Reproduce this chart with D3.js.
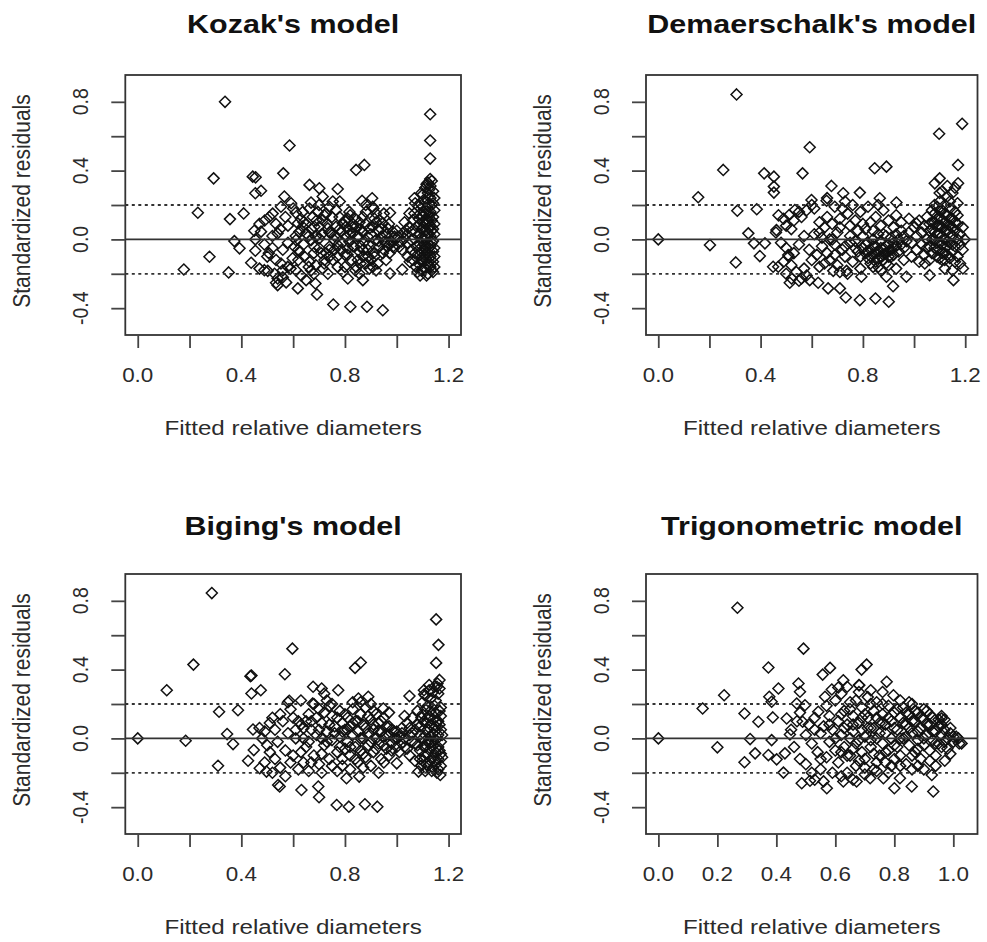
<!DOCTYPE html>
<html>
<head>
<meta charset="utf-8">
<script src="https://cdn.jsdelivr.net/npm/d3@7"></script>
<style>body{margin:0;background:#fff}</style>
</head>
<body>
<svg id="chart" width="987" height="942"></svg>
<script>
// panel titles and axis text
const titles = ["Kozak's model", "Demaerschalk's model", "Biging's model", "Trigonometric model"];
const xTitle = "Fitted relative diameters";
const yTitle = "Standardized residuals";

// tick values / labels (R drops labels that would overlap)
const xTicksWide = [0, 0.2, 0.4, 0.6, 0.8, 1.0, 1.2];
const xLabelsWide = ["0.0", "", "0.4", "", "0.8", "", "1.2"];
const xTicksTrig = [0, 0.2, 0.4, 0.6, 0.8, 1.0];
const xLabelsTrig = ["0.0", "0.2", "0.4", "0.6", "0.8", "1.0"];
const yTicks = [-0.4, -0.2, 0, 0.2, 0.4, 0.6, 0.8];
const yLabels = ["-0.4", "", "0.0", "", "0.4", "", "0.8"];
const refLines = [-0.2, 0, 0.2];

// [fitted, standardized residual]
const kozakPts = [
  [0.178,-0.175],[0.232,0.155],[0.277,-0.101],[0.293,0.355],[0.337,0.80],[0.351,-0.192],[0.356,0.118],[0.373,-0.01],
  [0.393,-0.052],[0.409,0.151],[0.438,-0.136],[0.444,0.365],[0.455,0.361],[0.454,0.268],[0.476,0.283],[0.454,-0.066],
  [0.489,-0.179],[0.502,-0.183],[0.534,-0.252],[0.540,-0.266],[0.562,0.384],[0.586,0.546],[0.566,0.249],[0.618,-0.285],
  [0.663,0.317],[0.669,0.214],[0.686,-0.256],[0.692,-0.320],[0.701,0.297],[0.714,0.249],[0.755,-0.379],[0.772,0.293],
  [0.811,-0.227],[0.821,-0.392],[0.843,0.404],[0.866,0.225],[0.869,-0.237],[0.875,0.433],[0.885,-0.392],[0.905,0.239],
  [0.946,-0.412],[0.974,0.155],[0.974,-0.198],[1.021,-0.175],[1.049,0.151],[1.068,0.239],[1.129,0.728],[1.129,0.575],
  [1.129,0.47],[1.129,0.351],
  [0.45,0.05],[0.476,0.045],[0.454,0.0],[0.489,-0.03],[0.508,0.13],[0.521,0.15],[0.534,0.09],[0.54,0.035],[0.506,-0.08],
  [0.534,-0.12],[0.553,-0.14],[0.54,-0.227],[0.56,-0.22],[0.573,-0.25],[0.528,-0.2],[0.47,-0.17],[0.57,0.13],[0.553,0.19],
  [0.592,0.21],[0.6,0.18],[0.61,0.155],[0.47,0.09],[0.49,0.11],[0.5,-0.1],[0.52,-0.05],[0.56,-0.06],[0.58,-0.02],[0.55,0.06],
  [0.58,0.08],[0.52,0.02],[0.59,-0.17],[0.56,-0.18],
  [0.618,0.093],[0.637,0.074],[0.65,0.035],[0.669,-0.004],[0.682,-0.043],[0.611,-0.004],[0.605,-0.043],[0.624,-0.072],
  [0.643,-0.1],[0.663,-0.13],[0.598,-0.11],[0.579,-0.16],[0.611,-0.18],[0.631,-0.21],[0.65,-0.237],[0.669,-0.18],[0.688,-0.15],
  [0.676,0.13],[0.695,0.16],[0.663,0.18],[0.637,0.16],[0.682,0.074],[0.624,0.045],[0.688,0.016],[0.701,0.074],[0.708,-0.08],
  [0.721,-0.12],
  [0.714,0.113],[0.727,0.151],[0.74,0.19],[0.753,0.22],[0.766,0.17],[0.779,0.13],[0.792,0.093],[0.734,0.064],[0.746,0.035],
  [0.759,-0.004],[0.772,-0.033],[0.785,-0.062],[0.8,-0.09],[0.74,-0.043],[0.727,-0.08],[0.753,-0.12],[0.772,-0.16],[0.792,-0.19],
  [0.734,-0.2],[0.714,-0.17],[0.766,0.074],[0.785,0.045],[0.74,-0.1],[0.701,0.006],[0.804,0.074],[0.811,0.12],[0.817,0.16],
  [0.804,0.016],[0.817,-0.014],[0.83,0.035],[0.843,0.074],[0.856,0.1],[0.869,0.13],[0.881,0.16],[0.836,-0.043],[0.856,-0.072],
  [0.869,-0.1],[0.881,-0.14],[0.894,-0.17],[0.824,-0.12],[0.843,-0.16],[0.856,-0.2],[0.875,-0.014],[0.888,0.016],[0.894,0.064],
  [0.869,0.045],[0.849,0.016],[0.817,0.055],[0.83,0.09],[0.811,-0.053],[0.862,-0.04],[0.888,-0.06],[0.907,0.19],[0.92,0.151],
  [0.907,0.074],[0.927,0.055],[0.94,0.016],[0.952,-0.014],[0.965,-0.043],[0.978,-0.014],[0.991,0.016],[0.92,-0.004],
  [0.933,-0.043],[0.946,-0.08],[0.959,-0.12],[0.914,-0.1],[0.927,-0.14],[0.907,-0.16],[0.972,-0.08],[0.985,-0.043],
  [0.946,0.093],[0.965,0.064],[0.985,0.045],[0.914,0.12],[0.933,0.113],
  [1.004,0.016],[1.017,-0.014],[1.03,0.006],[1.043,-0.023],[1.056,-0.004],[1.01,-0.043],[1.023,0.035],[1.036,0.055],
  [1.049,0.074],[1.062,0.113],[1.068,0.151],[1.056,-0.062],[1.043,-0.1],[1.062,-0.12],[1.074,-0.16],[1.071,0.21],[1.077,0.074],
  [1.077,-0.043],
  [0.61,0.02],[0.62,-0.12],[0.63,0.12],[0.64,-0.03],[0.65,0.09],[0.66,-0.16],[0.67,0.06],[0.68,-0.08],[0.69,0.11],[0.7,-0.05],
  [0.71,0.03],[0.72,-0.14],[0.73,0.09],[0.74,-0.06],[0.75,0.13],[0.76,0.02],[0.77,-0.1],[0.78,0.06],[0.79,-0.02],[0.8,0.11],
  [0.81,-0.09],[0.82,0.03],[0.83,-0.04],[0.84,0.12],[0.85,-0.12],[0.86,0.06],[0.87,-0.06],[0.88,0.09],[0.89,-0.03],[0.9,0.03],
  [0.91,-0.08],[0.92,0.1],[0.93,-0.01],[0.94,0.06],[0.95,-0.06],[0.96,0.03],[0.97,-0.03],[0.98,0.02],[0.99,-0.05],[1.0,0.05],
  [0.82,0.14],[0.84,-0.18],[0.86,-0.14],[0.88,0.2],[0.9,-0.12],[0.92,-0.18],[0.78,0.22],[0.8,-0.16],[0.76,-0.06],[0.74,0.04],
  [0.72,0.14],[0.7,0.2],[0.68,-0.2],[0.66,0.02],[0.64,0.1],[0.62,-0.06],[0.85,0.02],[0.87,0.04],[0.83,0.07],[0.89,-0.1],
  [0.93,0.05],[0.97,0.09],[1.02,-0.06],[1.04,0.03],[1.06,0.05],[1.07,-0.08],[1.05,-0.13],[1.03,0.1],[0.95,0.15],[0.91,0.18],
  [1.09,0.21],[1.10,0.26],[1.11,0.30],[1.12,0.33],[1.13,0.31],[1.14,0.28],[1.12,0.27],[1.13,0.24],[1.10,0.19],[1.11,0.22],
  [1.14,0.21],[1.09,0.15],[1.12,0.18],[1.13,0.16],[1.10,0.13],[1.11,0.15],[1.14,0.13],[1.09,0.09],[1.12,0.11],[1.13,0.08],
  [1.10,0.06],[1.11,0.09],[1.14,0.06],[1.09,0.03],[1.12,0.04],[1.13,0.02],[1.10,0.0],[1.11,0.02],[1.14,-0.01],[1.09,-0.03],
  [1.12,-0.02],[1.13,-0.04],[1.10,-0.06],[1.11,-0.05],[1.14,-0.07],[1.09,-0.09],[1.12,-0.08],[1.13,-0.10],[1.10,-0.12],
  [1.11,-0.11],[1.14,-0.13],[1.09,-0.15],[1.12,-0.14],[1.13,-0.16],[1.10,-0.18],[1.11,-0.17],[1.14,-0.19],[1.09,-0.21],
  [1.12,-0.20],[1.08,-0.19],[1.115,0.12],[1.125,0.07],[1.105,0.10],[1.135,0.11],[1.095,0.01],[1.125,-0.05],[1.105,-0.03],
  [1.135,-0.02],[1.115,-0.08],[1.145,0.03],[1.145,0.17],[1.145,-0.10],[1.105,0.23],[1.125,0.29],[1.135,0.20],[1.085,0.12],
  [1.085,-0.06],[1.095,-0.12],[1.125,-0.15],[1.145,-0.16],
  [1.095,0.27],[1.115,0.32],[1.135,0.34],[1.105,0.16],[1.125,0.21],[1.145,0.24],[1.095,0.06],[1.115,0.05],[1.135,0.05],
  [1.105,-0.09],[1.125,-0.11],[1.145,-0.05],[1.095,-0.18],[1.115,-0.21],[1.135,-0.18],[1.085,0.03],[1.085,0.19],[1.105,-0.16],
  [1.145,0.09],[1.125,0.14]
];

const demaerschalkPts = [
  [0,0],[0.306,0.843],[0.156,0.245],[0.202,-0.033],[0.254,0.404],[0.309,0.167],[0.303,-0.134],[0.352,0.035],[0.374,-0.023],
  [0.385,0.175],[0.397,-0.097],[0.414,0.384],[0.417,-0.023],[0.452,0.365],[0.452,0.307],[0.452,0.272],[0.449,-0.159],
  [0.469,-0.159],[0.462,0.054],[0.564,0.384],[0.592,0.536],[0.512,0.142],[0.534,0.171],[0.508,-0.091],[0.521,-0.227],
  [0.514,-0.252],[0.56,-0.227],[0.592,-0.237],[0.625,-0.252],[0.664,-0.285],[0.71,-0.285],[0.733,-0.338],[0.788,-0.353],
  [0.849,-0.344],[0.901,-0.363],[0.918,-0.272],[0.846,0.414],[0.892,0.423],[1.098,0.614],[1.188,0.672],[1.172,0.433],
  [1.1,0.355],[1.081,0.326],[1.172,0.326],[0.677,0.311],[0.599,0.229],[0.658,0.225],[0.723,0.268],[0.788,0.272],[0.866,0.239],
  [0.931,0.214],[1.009,0.093],[1.154,-0.237],[1.061,-0.208],[1.042,-0.14],[0.97,-0.217],[0.892,-0.217],[0.794,-0.217],
  [0.684,-0.183],[0.736,-0.183],[1.191,-0.169],[1.198,0.0],
  [0.47,0.14],[0.49,0.12],[0.5,0.08],[0.52,0.06],[0.53,0.11],[0.55,0.16],[0.56,0.13],[0.58,0.17],[0.6,0.2],[0.61,0.18],
  [0.48,-0.02],[0.5,-0.05],[0.51,-0.1],[0.53,-0.08],[0.55,-0.03],[0.57,0.02],[0.59,-0.06],[0.6,-0.12],[0.52,-0.15],[0.54,-0.19],
  [0.57,-0.17],[0.49,-0.13],[0.58,-0.21],[0.61,0.03],[0.62,-0.09],[0.46,0.04],[0.55,-0.24],[0.5,-0.2],
  [0.63,0.1],[0.65,0.07],[0.66,0.13],[0.68,0.09],[0.7,0.04],[0.71,0.12],[0.72,0.18],[0.73,0.22],[0.74,0.15],[0.75,0.08],
  [0.77,0.11],[0.78,0.05],[0.79,0.16],[0.64,-0.04],[0.66,-0.08],[0.67,-0.12],[0.69,-0.03],[0.7,-0.15],[0.72,-0.06],[0.73,-0.1],
  [0.75,-0.02],[0.76,-0.13],[0.78,-0.07],[0.79,-0.17],[0.64,0.01],[0.68,0.0],[0.71,-0.19],[0.74,-0.2],[0.77,-0.01],[0.8,0.02],
  [0.63,-0.16],[0.76,0.2],[0.69,0.19],[0.66,0.24],
  [0.8,-0.05],[0.81,-0.08],[0.82,-0.02],[0.82,-0.11],[0.83,-0.06],[0.84,0.0],[0.84,-0.09],[0.85,-0.04],[0.85,-0.13],
  [0.86,-0.07],[0.86,0.03],[0.87,-0.1],[0.87,-0.01],[0.88,-0.05],[0.88,-0.12],[0.89,-0.08],[0.89,0.02],[0.9,-0.03],[0.9,-0.1],
  [0.91,-0.06],[0.91,0.01],[0.92,-0.02],[0.92,-0.09],[0.93,-0.04],[0.93,0.03],[0.94,-0.07],[0.94,0.0],[0.95,-0.03],[0.95,0.05],
  [0.96,-0.05],[0.96,0.02],[0.97,-0.01],[0.81,0.06],[0.83,0.1],[0.85,0.13],[0.87,0.08],[0.88,0.17],[0.9,0.11],[0.92,0.07],
  [0.93,0.14],[0.95,0.1],[0.84,-0.16],[0.87,-0.18],[0.9,-0.15],[0.93,-0.17],[0.96,-0.12],[0.82,0.19],[0.86,0.2],
  [0.81,-0.03],[0.82,-0.07],[0.83,-0.1],[0.84,-0.04],[0.85,-0.08],[0.86,-0.11],[0.87,-0.05],[0.88,-0.09],[0.89,-0.04],
  [0.9,-0.07],[0.91,-0.1],[0.92,-0.05],[0.83,-0.14],[0.86,-0.16],[0.89,-0.14],[0.8,0.09],[0.84,0.05],[0.88,0.03],[0.79,-0.1],
  [0.77,-0.05],[0.75,0.02],[0.73,-0.04],[0.71,0.07],[0.69,-0.09],[0.67,0.0],[0.65,-0.14],[0.63,0.04],
  [0.98,0.04],[0.99,-0.02],[1.0,0.07],[1.01,0.02],[1.01,-0.06],[1.02,0.11],[1.03,0.04],[1.03,-0.03],[1.04,0.08],[1.04,-0.09],
  [1.05,0.0],[1.05,0.13],[0.99,-0.1],[1.02,-0.13],[0.98,0.12],
  [1.06,0.05],[1.06,-0.04],[1.07,0.1],[1.07,-0.08],[1.07,0.0],[1.08,0.15],[1.08,0.04],[1.08,-0.05],[1.09,0.19],[1.09,0.08],
  [1.09,-0.02],[1.09,-0.1],[1.1,0.13],[1.1,0.03],[1.1,-0.06],[1.1,0.22],[1.11,0.17],[1.11,0.07],[1.11,-0.03],[1.11,-0.12],
  [1.12,0.2],[1.12,0.1],[1.12,0.0],[1.12,-0.08],[1.13,0.14],[1.13,0.05],[1.13,-0.04],[1.13,0.25],[1.14,0.18],[1.14,0.08],
  [1.14,-0.02],[1.14,-0.11],[1.15,0.12],[1.15,0.02],[1.15,-0.07],[1.15,0.27],[1.16,0.05],[1.16,-0.04],[1.16,0.16],[1.17,0.09],
  [1.17,-0.1],[1.17,0.0],[1.18,0.03],[1.18,-0.14],[1.19,0.07],[1.07,0.17],[1.06,-0.12],[1.12,-0.17],[1.15,-0.18],[1.17,0.21],
  [1.1,0.27],[1.13,0.31],[1.16,0.3],[1.19,-0.06],[1.11,0.28],
  [1.07,0.06],[1.08,0.1],[1.09,0.12],[1.1,0.08],[1.11,0.11],[1.12,0.05],[1.13,0.09],[1.14,0.12],[1.12,0.15],[1.1,0.17],
  [1.08,0.0],[1.09,0.03],[1.1,-0.02],[1.11,0.02],[1.13,-0.01],[1.14,0.04],[1.15,0.07],[1.16,0.1],[1.11,-0.08],[1.13,-0.09],
  [1.15,-0.03],[1.09,-0.06],[1.12,-0.12],[1.08,0.2],[1.1,-0.11],[1.06,0.09],[1.05,-0.05],[1.14,0.22],[1.17,0.14],[1.18,-0.03],
  [1.16,-0.13]
];

const bigingPts = [
  [0,0],[0.286,0.845],[0.112,0.28],[0.215,0.429],[0.185,-0.014],[0.31,-0.159],[0.314,0.155],[0.387,0.164],[0.345,0.025],
  [0.368,-0.033],[0.426,-0.13],[0.435,0.362],[0.439,0.366],[0.439,0.261],[0.475,0.28],[0.445,0.052],[0.448,-0.068],
  [0.471,-0.174],[0.497,-0.193],[0.568,0.373],[0.597,0.522],[0.585,0.219],[0.677,0.3],[0.71,0.29],[0.774,0.28],[0.839,0.41],
  [0.861,0.441],[0.542,-0.271],[0.548,-0.28],[0.632,-0.3],[0.697,-0.28],[0.7,-0.342],[0.768,-0.387],[0.815,-0.397],
  [0.877,-0.383],[0.925,-0.397],[1.152,0.692],[1.161,0.544],[1.152,0.439],[1.157,0.319],[1.106,0.257],[1.049,0.246],
  [1.0,-0.145],[1.084,-0.193],[1.168,-0.213],[0.948,0.174],[0.89,0.242],[0.675,0.203],[0.852,0.232],[0.806,-0.232],
  [0.855,-0.222],
  [0.47,0.06],[0.48,0.0],[0.5,-0.04],[0.51,0.09],[0.52,0.12],[0.53,0.05],[0.54,-0.02],[0.55,0.14],[0.56,0.1],[0.57,-0.07],
  [0.58,0.03],[0.59,0.17],[0.6,0.12],[0.6,-0.1],[0.61,0.05],[0.53,-0.12],[0.55,-0.17],[0.57,-0.22],[0.59,-0.14],[0.51,-0.08],
  [0.49,-0.14],[0.52,-0.2],[0.62,-0.18],[0.58,0.21],[0.49,0.04],
  [0.63,0.08],[0.64,0.0],[0.65,-0.05],[0.66,0.14],[0.67,0.05],[0.68,-0.1],[0.69,0.02],[0.7,0.17],[0.7,-0.15],[0.71,0.09],
  [0.72,-0.04],[0.73,0.22],[0.73,0.04],[0.74,-0.12],[0.75,0.13],[0.75,-0.01],[0.76,0.07],[0.77,-0.08],[0.78,0.16],[0.78,0.01],
  [0.79,-0.16],[0.79,0.09],[0.64,-0.14],[0.66,-0.19],[0.68,0.2],[0.71,-0.2],[0.74,0.19],[0.77,-0.19],[0.63,0.22],[0.72,0.26],
  [0.8,0.05],[0.8,-0.06],
  [0.81,0.12],[0.81,-0.02],[0.82,0.07],[0.82,-0.1],[0.83,0.02],[0.83,0.17],[0.84,-0.05],[0.84,0.1],[0.85,-0.14],[0.85,0.04],
  [0.86,0.14],[0.86,-0.07],[0.87,0.0],[0.87,0.08],[0.88,-0.11],[0.88,0.18],[0.89,0.03],[0.89,-0.04],[0.9,0.11],[0.9,-0.16],
  [0.91,0.05],[0.91,-0.08],[0.92,0.14],[0.92,0.0],[0.93,-0.03],[0.93,0.09],[0.94,-0.12],[0.94,0.04],[0.95,0.01],[0.95,0.12],
  [0.96,-0.06],[0.96,0.07],[0.97,0.02],[0.97,-0.1],[0.98,0.05],[0.98,-0.03],[0.99,0.0],[1.0,0.04],[1.0,-0.05],[0.86,0.21],
  [0.9,0.2],[0.82,-0.18],[0.93,-0.2],[0.97,0.15],
  [0.61,0.0],[0.62,0.1],[0.63,-0.08],[0.65,0.1],[0.66,-0.02],[0.67,-0.14],[0.69,0.12],[0.7,0.05],[0.71,-0.09],[0.72,0.15],
  [0.73,-0.02],[0.74,0.08],[0.75,-0.16],[0.76,0.03],[0.77,0.12],[0.78,-0.05],[0.79,0.04],[0.8,0.14],[0.81,0.05],[0.82,-0.05],
  [0.83,0.09],[0.84,-0.12],[0.85,0.1],[0.86,0.0],[0.87,-0.09],[0.88,0.06],[0.89,0.13],[0.9,-0.02],[0.91,0.08],[0.92,-0.06],
  [0.93,0.04],[0.94,0.1],[0.95,-0.04],[0.96,0.02],[0.97,0.07],[0.98,-0.07],[0.99,0.04],[1.0,0.0],[1.02,0.03],[1.03,-0.05],
  [1.05,0.06],[1.06,0.03],[1.07,-0.03],[1.08,0.08],[1.09,0.02],[1.09,-0.12],[0.87,-0.17],[0.83,0.21],[0.79,-0.12],[0.75,0.2],
  [0.71,0.0],[0.67,0.1],[0.64,0.06],[0.91,0.16],[0.95,-0.14],
  [1.01,0.01],[1.02,-0.03],[1.02,0.06],[1.03,0.0],[1.04,-0.06],[1.04,0.09],[1.05,0.02],[1.05,-0.1],[1.06,0.12],[1.06,-0.02],
  [1.07,0.05],[1.07,-0.13],[1.08,0.16],[1.08,-0.04],[1.03,0.13],[1.01,-0.08],
  [1.10,0.21],[1.11,0.25],[1.12,0.19],[1.13,0.23],[1.14,0.27],[1.15,0.22],[1.16,0.26],[1.17,0.18],[1.10,0.14],[1.11,0.17],
  [1.12,0.12],[1.13,0.16],[1.14,0.11],[1.15,0.15],[1.16,0.1],[1.17,0.13],[1.09,0.07],[1.11,0.09],[1.12,0.05],[1.13,0.08],
  [1.14,0.03],[1.15,0.07],[1.16,0.02],[1.17,0.05],[1.10,0.0],[1.11,0.02],[1.12,-0.02],[1.13,0.01],[1.14,-0.04],[1.15,-0.01],
  [1.16,-0.05],[1.17,-0.02],[1.09,-0.07],[1.11,-0.05],[1.12,-0.09],[1.13,-0.06],[1.14,-0.11],[1.15,-0.08],[1.16,-0.12],
  [1.17,-0.09],[1.10,-0.13],[1.12,-0.16],[1.13,-0.13],[1.15,-0.15],[1.16,-0.18],[1.14,-0.17],[1.11,-0.19],[1.17,-0.16],
  [1.155,0.3],[1.165,0.34],[1.125,0.28],[1.105,-0.1],[1.145,0.19],[1.135,-0.02],[1.165,0.08],
  [1.105,0.28],[1.125,0.31],[1.145,0.3],[1.165,0.29],[1.105,0.1],[1.125,0.13],[1.145,0.06],[1.165,0.16],[1.105,-0.05],
  [1.125,-0.03],[1.145,-0.13],[1.165,-0.07],[1.115,-0.15],[1.135,-0.19],[1.155,-0.2],[1.175,0.02],[1.175,-0.11],[1.095,0.12],
  [1.095,-0.16],[1.155,0.1]
];

const trigPts = [
  [0,0],[0.268,0.76],[0.150,0.174],[0.2,-0.052],[0.223,0.251],[0.292,0.145],[0.292,-0.139],[0.311,-0.004],[0.328,-0.087],
  [0.339,0.097],[0.373,0.412],[0.376,0.242],[0.384,0.213],[0.407,0.29],[0.388,0.122],[0.373,-0.097],[0.401,-0.122],
  [0.384,-0.01],[0.424,-0.199],[0.435,0.116],[0.429,-0.087],[0.446,0.023],[0.475,0.319],[0.48,0.271],[0.469,0.203],
  [0.497,0.193],[0.492,0.522],[0.489,0.097],[0.486,-0.261],[0.514,-0.246],[0.542,0.155],[0.557,0.371],[0.582,0.41],
  [0.565,0.242],[0.571,-0.29],[0.588,0.284],[0.627,0.338],[0.61,0.296],[0.689,0.40],[0.706,0.429],[0.681,0.309],
  [0.774,0.329],[0.797,0.251],[0.627,-0.251],[0.672,-0.251],[0.718,-0.232],[0.763,-0.232],[0.8,-0.29],[0.859,-0.28],
  [0.819,-0.232],[0.932,-0.309],[0.927,-0.213],[0.96,0.116],[0.971,-0.13],[1.028,-0.029],[1.017,0.0],
  [0.45,0.05],[0.46,-0.05],[0.47,0.1],[0.48,-0.12],[0.5,0.02],[0.5,-0.15],[0.51,0.08],[0.52,-0.03],[0.52,-0.2],[0.53,0.12],
  [0.54,-0.08],[0.55,0.03],[0.55,-0.18],[0.56,0.07],[0.57,-0.11],[0.57,0.19],[0.58,-0.02],[0.58,0.13],[0.59,-0.2],[0.59,0.05],
  [0.6,-0.07],[0.6,0.22],[0.48,0.15],[0.53,-0.24],[0.56,-0.25],[0.6,0.0],
  [0.61,0.1],[0.61,-0.14],[0.62,0.02],[0.62,0.26],[0.63,-0.05],[0.63,0.16],[0.64,0.08],[0.64,-0.2],[0.65,-0.1],[0.65,0.21],
  [0.66,0.04],[0.66,0.13],[0.67,-0.03],[0.67,-0.16],[0.68,0.09],[0.68,0.27],[0.69,-0.08],[0.69,0.18],[0.7,0.01],[0.7,-0.12],
  [0.71,0.12],[0.71,0.24],[0.72,-0.05],[0.72,0.06],[0.73,-0.18],[0.73,0.16],[0.74,0.0],[0.74,0.21],[0.75,-0.1],[0.75,0.09],
  [0.76,-0.03],[0.76,0.14],[0.77,0.03],[0.77,-0.14],[0.78,0.19],[0.78,-0.07],[0.79,0.1],[0.79,0.0],[0.8,-0.12],[0.8,0.15],
  [0.62,-0.22],[0.66,-0.24],[0.7,-0.21],[0.74,-0.19],[0.64,0.3],[0.68,0.31],[0.72,0.28],[0.76,0.27],[0.65,0.0],[0.69,0.05],
  [0.73,0.06],[0.77,0.08],
  [0.81,0.05],[0.81,-0.05],[0.82,0.12],[0.82,-0.1],[0.83,0.18],[0.83,0.0],[0.84,0.08],[0.84,-0.15],[0.85,-0.04],[0.85,0.14],
  [0.86,0.03],[0.86,0.2],[0.87,-0.08],[0.87,0.1],[0.88,0.15],[0.88,-0.01],[0.89,0.06],[0.89,-0.12],[0.9,0.11],[0.9,-0.04],
  [0.91,0.02],[0.91,0.16],[0.92,-0.07],[0.92,0.08],[0.93,0.12],[0.93,-0.01],[0.94,0.04],[0.94,-0.1],[0.95,0.07],[0.95,-0.03],
  [0.82,0.22],[0.86,-0.18],[0.9,-0.18],[0.94,-0.16],
  [0.62,0.14],[0.63,0.06],[0.64,-0.1],[0.65,0.17],[0.66,-0.06],[0.67,0.22],[0.68,-0.01],[0.69,0.12],[0.7,-0.17],[0.71,0.06],
  [0.72,0.2],[0.73,-0.09],[0.74,0.12],[0.75,0.03],[0.76,0.2],[0.77,-0.08],[0.78,0.12],[0.79,-0.16],[0.8,0.06],[0.81,0.17],
  [0.82,0.0],[0.83,0.09],[0.84,0.15],[0.85,0.06],[0.86,-0.1],[0.87,0.16],[0.88,0.04],[0.89,0.12],[0.9,0.0],[0.91,0.08],
  [0.92,0.14],[0.93,0.04],[0.94,-0.03],[0.95,0.11],[0.96,-0.05],[0.84,0.01],[0.86,0.1],[0.88,-0.06],[0.9,0.17],[0.82,-0.16],
  [0.78,-0.2],[0.74,-0.14],[0.7,0.14],[0.66,0.08],[0.62,-0.08],[0.58,0.08],[0.55,-0.12],[0.53,0.05],[0.99,0.06],[1.0,0.01],
  [0.68,-0.13],[0.72,-0.01],[0.76,0.09],[0.8,-0.04],[0.92,-0.13],[0.96,0.13],[0.88,-0.16],[0.85,0.21],
  [0.96,0.02],[0.96,0.08],[0.97,-0.02],[0.97,0.05],[0.98,0.0],[0.98,-0.06],[0.99,0.03],[1.0,-0.02],[1.01,0.01],[1.02,-0.03],
  [0.97,0.11],[0.99,-0.09]
];

const svg = d3.select("#chart");
const font = "'Liberation Sans', Arial, Helvetica, sans-serif";
const sx = 1.15;          // the picture is a bit wider than tall
const yDom = [-0.556, 0.956];

const panels = [
  {title: titles[0], pts: kozakPts, left: 125.3, right: 461, top: 75, bottom: 335, xDom: [-0.048, 1.248], xt: xTicksWide, xl: xLabelsWide},
  {title: titles[1], pts: demaerschalkPts, left: 646, right: 977.5, top: 75, bottom: 335, xDom: [-0.048, 1.248], xt: xTicksWide, xl: xLabelsWide},
  {title: titles[2], pts: bigingPts, left: 125.3, right: 461, top: 574, bottom: 834, xDom: [-0.048, 1.248], xt: xTicksWide, xl: xLabelsWide},
  {title: titles[3], pts: trigPts, left: 646, right: 977.5, top: 574, bottom: 834, xDom: [-0.042, 1.082], xt: xTicksTrig, xl: xLabelsTrig}
];

// text stretched horizontally like the source image
function label(g, x, y, str, size, opts = {}) {
  const t = g.append("g")
    .attr("transform", `translate(${x},${y}) scale(${sx},1)` + (opts.rotate ? ` rotate(${opts.rotate})` : ""))
    .append("text")
    .attr("text-anchor", "middle")
    .attr("font-family", font)
    .attr("font-size", size)
    .attr("fill", opts.color || "#2b2b2b")
    .text(str);
  if (opts.bold) t.attr("font-weight", "bold");
  return t;
}

const diamond = "M0,-5.5L5.5,0L0,5.5L-5.5,0Z";

panels.forEach((p, k) => {
  const g = svg.append("g");
  const x = d3.scaleLinear().domain(p.xDom).range([p.left, p.right]);
  const y = d3.scaleLinear().domain(yDom).range([p.bottom, p.top]);
  const cx = (p.left + p.right) / 2;
  const cy = (p.top + p.bottom) / 2;

  // points
  g.append("g").selectAll("path")
    .data(p.pts)
    .join("path")
    .attr("d", diamond)
    .attr("transform", d => `translate(${x(d[0])},${y(d[1])})`)
    .attr("fill", "none")
    .attr("stroke", "#111")
    .attr("stroke-width", 1.5);

  // reference lines at 0 and +/-0.2
  g.selectAll("line.ref")
    .data(refLines)
    .join("line")
    .attr("class", "ref")
    .attr("x1", p.left).attr("x2", p.right)
    .attr("y1", d => y(d)).attr("y2", d => y(d))
    .attr("stroke", "#333")
    .attr("stroke-width", d => d === 0 ? 1.6 : 1.8)
    .attr("stroke-dasharray", d => d === 0 ? null : "3,3.5");

  // box
  g.append("rect")
    .attr("x", p.left).attr("y", p.top)
    .attr("width", p.right - p.left).attr("height", p.bottom - p.top)
    .attr("fill", "none")
    .attr("stroke", "#333")
    .attr("stroke-width", 1.8);

  // x axis ticks
  const xAxis = d3.axisBottom(x).tickValues(p.xt).tickSize(13).tickFormat("");
  const xg = g.append("g").attr("transform", `translate(0,${p.bottom})`).call(xAxis);
  xg.select(".domain").remove();
  xg.selectAll(".tick line").attr("stroke", "#444").attr("stroke-width", 1.8);

  // y axis ticks
  const yAxis = d3.axisLeft(y).tickValues(yTicks).tickSize(14).tickFormat("");
  const yg = g.append("g").attr("transform", `translate(${p.left},0)`).call(yAxis);
  yg.select(".domain").remove();
  yg.selectAll(".tick line").attr("stroke", "#444").attr("stroke-width", 1.8);

  // tick labels
  p.xt.forEach((v, i) => {
    if (p.xl[i]) label(g, x(v), p.bottom + 47, p.xl[i], 19.5);
  });
  yTicks.forEach((v, i) => {
    if (yLabels[i]) label(g, p.left - 37, y(v), yLabels[i], 19.5, {rotate: -90});
  });

  // axis titles and panel title
  label(g, cx, p.bottom + 100, xTitle, 21);
  label(g, p.left - 95, cy - 4, yTitle, 21, {rotate: -90});
  label(g, cx, p.top - (k < 2 ? 42 : 39), p.title, 26.5, {bold: true, color: "#111"});
});
</script>
</body>
</html>
